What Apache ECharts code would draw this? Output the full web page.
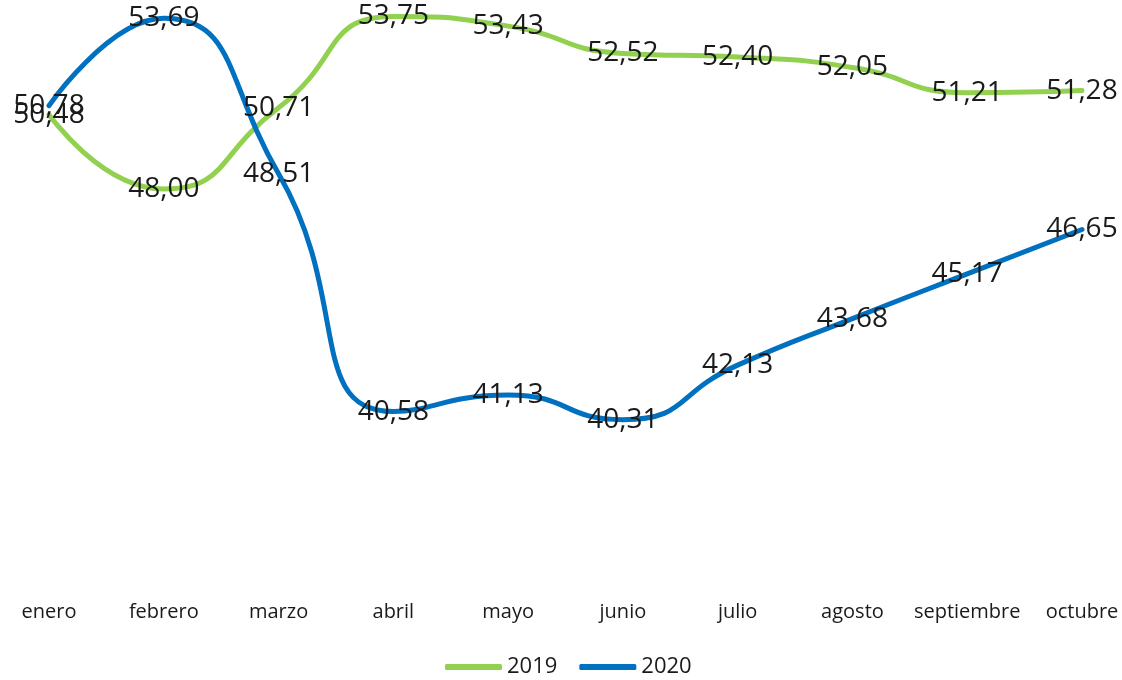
<!DOCTYPE html>
<html lang="es">
<head>
    <meta charset="UTF-8">
    <title>2019 vs 2020</title>
    <style>
        html, body { margin: 0; padding: 0; background: #fff; }
        #chart { width: 1122px; height: 680px; }
    </style>
</head>
<body>
    <div id="chart"></div>
    <script src="https://cdn.jsdelivr.net/npm/echarts@6/dist/echarts.min.js"></script>
    <script>
        // datos
        const meses = ['enero', 'febrero', 'marzo', 'abril', 'mayo', 'junio', 'julio', 'agosto', 'septiembre', 'octubre'];
        const datos2019 = [50.48, 48.00, 50.71, 53.75, 53.43, 52.52, 52.40, 52.05, 51.21, 51.28];
        const datos2020 = [50.78, 53.69, 48.51, 40.58, 41.13, 40.31, 42.13, 43.68, 45.17, 46.65];

        const fuente = '"Open Sans", "Noto Sans", sans-serif';

        function serie(nombre, valores, color) {
            return {
                name: nombre,
                type: 'line',
                data: valores,
                smooth: 0.55,
                symbol: 'circle',
                symbolSize: 1,
                itemStyle: { color: color },
                lineStyle: { width: 5, color: color, cap: 'round' },
                label: {
                    show: true,
                    position: 'inside',
                    fontFamily: fuente,
                    fontSize: 28,
                    color: '#1a1a1a',
                    formatter: p => p.value.toFixed(2).replace('.', ',')
                },
                emphasis: { disabled: true }
            };
        }

        const chart = echarts.init(document.getElementById('chart'));
        chart.setOption({
            animation: false,
            grid: { left: 49, right: 40, top: 0, bottom: 101, containLabel: false },
            legend: {
                top: 656,
                left: 445,
                padding: 0,
                icon: 'roundRect',
                itemWidth: 57,
                itemHeight: 6,
                itemGap: 22,
                textStyle: { fontFamily: fuente, fontSize: 22, color: '#1a1a1a' },
                data: ['2019', '2020']
            },
            xAxis: {
                type: 'category',
                data: meses,
                boundaryGap: false,
                axisLine: { show: false },
                axisTick: { show: false },
                axisLabel: {
                    interval: 0,
                    margin: 23,
                    fontFamily: fuente,
                    fontSize: 20,
                    color: '#1a1a1a'
                }
            },
            yAxis: {
                type: 'value',
                min: 35,
                max: 54.3,
                show: false,
                splitLine: { show: false }
            },
            series: [
                serie('2019', datos2019, '#92D050'),
                serie('2020', datos2020, '#0070C0')
            ]
        });
    </script>
</body>
</html>
